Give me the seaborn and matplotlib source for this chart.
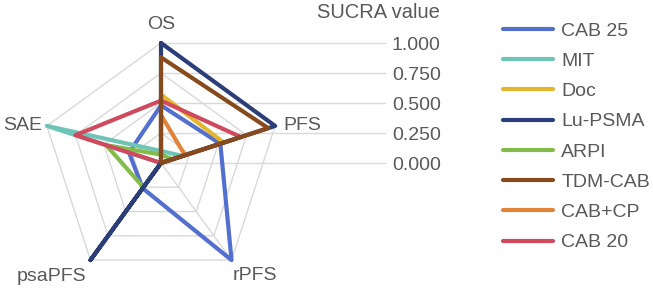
import numpy as np
import pandas as pd
import seaborn as sns
import matplotlib
matplotlib.use("Agg")
import matplotlib.pyplot as plt
from matplotlib.lines import Line2D

# SUCRA values per outcome
outcomes = ["OS", "PFS", "rPFS", "psaPFS", "SAE"]
cab25 = [0.48, 0.52, 1.00, 0.26, 0.28]
mit = [0.10, 0.19, 0.00, 0.00, 1.00]
doc = [0.57, 0.55, 0.00, 0.00, 0.00]
lu_psma = [1.00, 1.00, 0.00, 1.00, 0.00]
arpi = [0.07, 0.10, 0.00, 0.25, 0.48]
tdm_cab = [0.88, 0.94, 0.00, 0.00, 0.00]
cab_cp = [0.40, 0.21, 0.00, 0.00, 0.00]
cab20 = [0.52, 0.70, 0.00, 0.00, 0.75]

legend_order = ["CAB 25", "MIT", "Doc", "Lu-PSMA", "ARPI", "TDM-CAB", "CAB+CP", "CAB 20"]
values = [cab25, mit, doc, lu_psma, arpi, tdm_cab, cab_cp, cab20]
colors = ["#5470CF", "#6EC4B6", "#E3B62C", "#2C3E78", "#83BC4B", "#874A1C", "#E0843A", "#D04A5E"]
draw_order = ["CAB 25", "MIT", "Doc", "ARPI", "CAB+CP", "CAB 20", "Lu-PSMA", "TDM-CAB"]
ticks = [0.0, 0.25, 0.5, 0.75, 1.0]

palette = dict(zip(legend_order, colors))
angles = np.linspace(0, 2 * np.pi, len(outcomes), endpoint=False)
closed = np.append(angles, 2 * np.pi)

rows = []
for name, vals in zip(legend_order, values):
    for i, a in enumerate(closed):
        rows.append({"treatment": name, "theta": a, "value": vals[i % len(vals)], "step": i})
df = pd.DataFrame(rows)

sns.set_theme(style="white")
plt.rcParams["font.family"] = ["Liberation Sans", "DejaVu Sans"]
txt = "#595959"
grid = "#D9D9D9"
fs = 14

fig = plt.figure(figsize=(6.53, 2.90), dpi=100)

# right-hand value axis with horizontal gridlines
ax2 = fig.add_axes([161 / 653, 1 - 163 / 290, (385 - 161) / 653, 120 / 290])
ax2.set_ylim(0, 1)
ax2.set_xlim(0, 1)
ax2.set_yticks(ticks)
ax2.set_yticklabels([f"{t:.3f}" for t in ticks])
ax2.yaxis.tick_right()
ax2.tick_params(axis="y", length=0, pad=5, labelsize=fs, labelcolor=txt)
ax2.set_xticks([])
for t in ticks:
    ax2.axhline(t, color=grid, lw=1, clip_on=False)
for s in ax2.spines.values():
    s.set_visible(False)
ax2.patch.set_alpha(0)

# radar
ax = fig.add_axes([41 / 653, 1 - 283 / 290, 240 / 653, 240 / 290], projection="polar")
ax.set_theta_offset(np.pi / 2)
ax.set_theta_direction(-1)
ax.set_ylim(0, 1)
ax.grid(False)
ax.spines["polar"].set_visible(False)
ax.set_xticks([])
ax.set_yticks([])
ax.patch.set_alpha(0)

for r in ticks[1:]:
    ax.plot(closed, [r] * len(closed), color=grid, lw=1, clip_on=False, zorder=1)
for a in angles:
    ax.plot([a, a], [0, 1], color=grid, lw=1, clip_on=False, zorder=1)

sns.lineplot(data=df, x="theta", y="value", hue="treatment", hue_order=draw_order,
             palette=palette, sort=False, estimator=None, units="treatment",
             linewidth=3, legend=False, ax=ax)
for ln in ax.lines:
    ln.set_clip_on(False)
ax.set_xlabel("")
ax.set_ylabel("")

offsets = {"OS": (0, 13, "center"), "PFS": (6, 0, "left"), "rPFS": (17, -11, "center"),
           "psaPFS": (-28, -12, "center"), "SAE": (-3.5, 0, "right")}
for name, a in zip(outcomes, angles):
    dx, dy, ha = offsets[name]
    ax.annotate(name, xy=(a, 1), xytext=(dx, dy), textcoords="offset points",
                ha=ha, va="center", fontsize=fs, color=txt, annotation_clip=False)

fig.text(440 / 653, 1 - 12 / 290, "SUCRA value", ha="right", va="center", fontsize=14.5, color=txt)

handles = [Line2D([0], [0], color=palette[n], lw=3, solid_capstyle="round") for n in legend_order]
fig.legend(handles, legend_order, loc="upper left", bbox_to_anchor=(503 / 653, 1 - 22 / 290),
           frameon=False, fontsize=fs, labelcolor=txt, handlelength=2.58, handletextpad=0.41,
           labelspacing=0.65, borderpad=0, borderaxespad=0)

fig.savefig("out.png", dpi=100)
